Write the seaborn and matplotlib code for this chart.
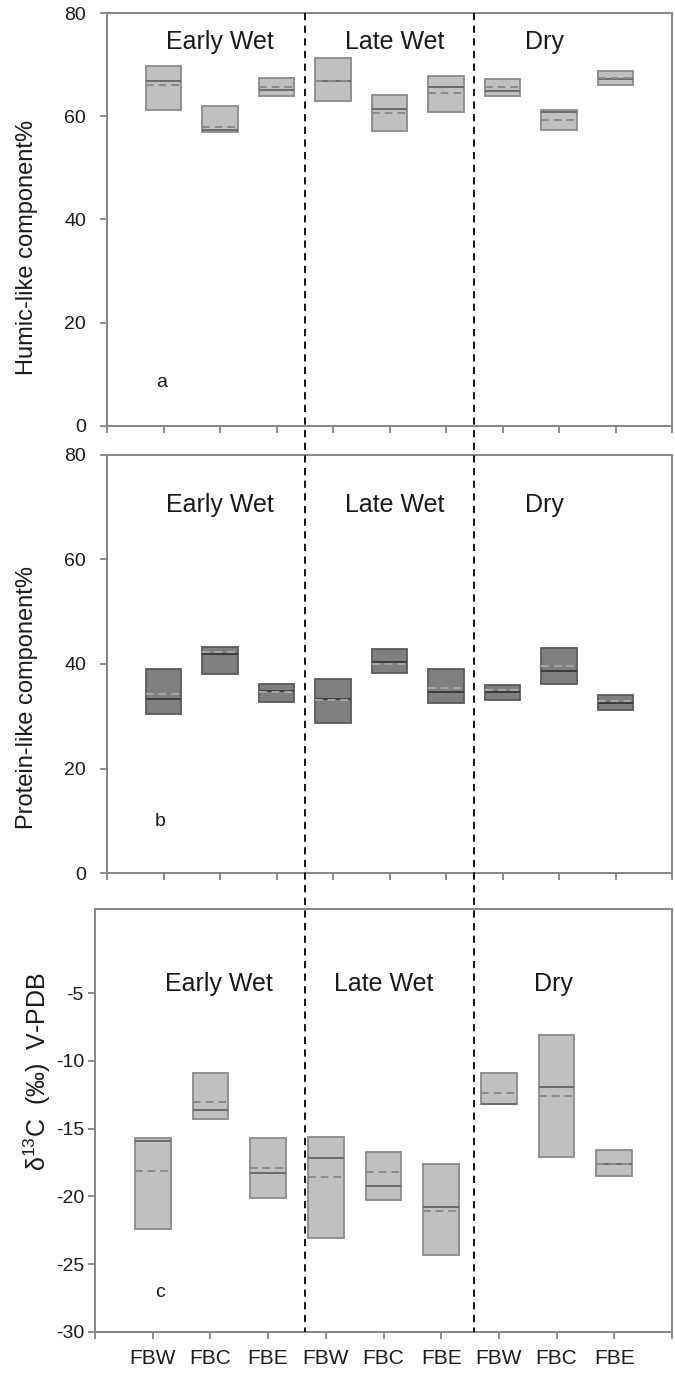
import numpy as np
import pandas as pd
import matplotlib
matplotlib.use("Agg")
import matplotlib.pyplot as plt
import seaborn as sns
from matplotlib.lines import Line2D
from matplotlib.transforms import blended_transform_factory

# ---------------- data ----------------
sites = ["FBW", "FBC", "FBE", "FBW", "FBC", "FBE", "FBW", "FBC", "FBE"]
seasons = ["Early Wet", "Late Wet", "Dry"]

humic_low = [61.2, 57.0, 63.9, 63.0, 57.1, 60.8, 63.9, 57.3, 66.1]
humic_high = [69.7, 62.0, 67.4, 71.2, 64.1, 67.8, 67.2, 61.2, 68.8]
humic_median = [66.9, 57.3, 65.1, 66.8, 61.5, 65.7, 64.9, 60.9, 67.2]
humic_mean = [66.1, 58.0, 65.6, 66.8, 60.7, 64.6, 65.6, 59.3, 67.4]

protein_low = [30.5, 38.1, 32.8, 28.8, 38.3, 32.6, 33.1, 36.2, 31.2]
protein_high = [39.0, 43.3, 36.2, 37.2, 42.9, 39.0, 36.0, 43.0, 34.0]
protein_median = [33.3, 42.0, 34.9, 33.3, 40.3, 34.6, 34.6, 38.7, 32.6]
protein_mean = [34.2, 42.3, 34.6, 33.2, 40.0, 35.4, 35.0, 39.6, 33.0]

d13c_low = [-22.4, -14.3, -20.1, -23.1, -20.3, -24.3, -13.2, -17.1, -18.5]
d13c_high = [-15.7, -10.9, -15.7, -15.6, -16.7, -17.6, -10.9, -8.1, -16.6]
d13c_median = [-15.9, -13.6, -18.3, -17.2, -19.2, -20.8, -13.2, -11.9, -17.6]
d13c_mean = [-18.1, -13.0, -17.9, -18.6, -18.2, -21.1, -12.4, -12.6, -17.6]

humic_ticks = [0, 20, 40, 60, 80]
protein_ticks = [0, 20, 40, 60, 80]
d13c_ticks = [-30, -25, -20, -15, -10, -5]

# ---------------- style ----------------
sns.set_theme(style="white")
plt.rcParams["font.family"] = ["Liberation Sans", "DejaVu Sans"]
plt.rcParams["mathtext.default"] = "regular"
plt.rcParams["axes.unicode_minus"] = False

W, H = 675, 1377
fig = plt.figure(figsize=(W / 100, H / 100), dpi=100)


def rect(l, t, r, b):
    return [l / W, 1 - b / H, (r - l) / W, (b - t) / H]


ax_a = fig.add_axes(rect(107, 13, 672, 426))
ax_b = fig.add_axes(rect(107, 455, 672, 873))
ax_c = fig.add_axes(rect(95, 909, 672, 1332))

positions = np.arange(1, len(sites) + 1)
BOXW = 0.62
SPINE = "#858585"
TXT = "#1a1a1a"


def draw_boxes(ax, low, high, med, mean, fill, edge, medc, meanc):
    low = np.asarray(low, float)
    high = np.asarray(high, float)
    df = pd.DataFrame({"pos": positions, "height": high - low})
    sns.barplot(data=df, x="pos", y="height", bottom=low, native_scale=True,
                width=BOXW, color=fill, saturation=1, edgecolor=edge,
                linewidth=1.3, errorbar=None, ax=ax, zorder=2)
    ax.hlines(med, positions - BOXW / 2, positions + BOXW / 2,
              colors=medc, lw=1.4, zorder=3)
    ax.hlines(mean, positions - BOXW / 2, positions + BOXW / 2,
              colors=meanc, lw=1.4, linestyles=(0, (4, 2.5)), zorder=4)


def style_axis(ax, ylim, yticks, ylabel, label_xy, ypad, lsize=17):
    ax.set_xlim(0, 10)
    ax.set_ylim(*ylim)
    ax.set_xticks(np.arange(0, 11))
    ax.set_yticks(yticks)
    ax.set_xlabel("")
    ax.set_ylabel(ylabel, fontsize=lsize, color=TXT)
    ax.yaxis.set_label_coords(*label_xy)
    for s in ax.spines.values():
        s.set_color(SPINE)
        s.set_linewidth(1.4)
        s.set_visible(True)
    ax.tick_params(axis="both", direction="out", length=5, width=1.3,
                   color=SPINE, labelsize=14, labelcolor=TXT,
                   bottom=True, left=True)
    ax.tick_params(axis="y", pad=ypad)


draw_boxes(ax_a, humic_low, humic_high, humic_median, humic_mean,
           "#c0c0c0", "#8a8a8a", "#6a6a6a", "#8a8a8a")
draw_boxes(ax_b, protein_low, protein_high, protein_median, protein_mean,
           "#7f7f7f", "#5a5a5a", "#3c3c3c", "#a8a8a8")
draw_boxes(ax_c, d13c_low, d13c_high, d13c_median, d13c_mean,
           "#c0c0c0", "#8a8a8a", "#6a6a6a", "#8a8a8a")

style_axis(ax_a, (0, 80), humic_ticks, "Humic-like component%", (-0.122, 0.433), 10)
style_axis(ax_b, (0, 80), protein_ticks, "Protein-like component%", (-0.122, 0.421), 10)
style_axis(ax_c, (-30, 1.2), d13c_ticks, r"δ$^{13}$C  (‰)  V-PDB", (-0.072, 0.615), 3, lsize=18)

ax_a.set_xticklabels([])
ax_b.set_xticklabels([])
ax_c.set_xticks(np.arange(0, 11))
ax_c.set_xticklabels([""] + sites + [""], fontsize=15)
ax_c.tick_params(axis="x", pad=7)

# season labels
for ax, ys, xs in [(ax_a, 74.4, (2.0, 5.1, 7.75)),
                   (ax_b, 70.4, (2.0, 5.1, 7.75)),
                   (ax_c, -4.3, (2.15, 5.0, 7.95))]:
    for s, x in zip(seasons, xs):
        ax.text(x, ys, s, ha="center", va="center", fontsize=18, color=TXT)

ax_a.text(0.96, 8.5, "a", ha="center", va="center", fontsize=14, color=TXT)
ax_b.text(0.94, 9.8, "b", ha="center", va="center", fontsize=14, color=TXT)
ax_c.text(1.13, -27.1, "c", ha="center", va="center", fontsize=14, color=TXT)

# season separators drawn across the whole figure
trans = blended_transform_factory(ax_a.transData, fig.transFigure)
for x in (3.5, 6.5):
    fig.add_artist(Line2D([x, x], [1 - 13 / H, 1 - 1332 / H], transform=trans,
                          color="black", lw=1.3, ls=(0, (4, 3))))

fig.savefig("out.png", dpi=100)
